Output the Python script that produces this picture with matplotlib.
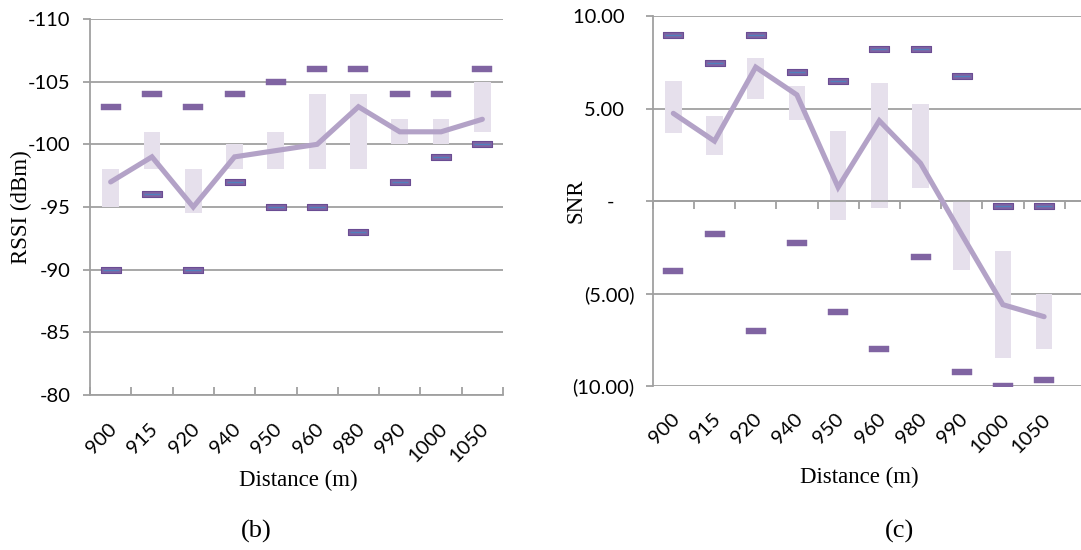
import matplotlib
matplotlib.use("Agg")
import matplotlib.pyplot as plt
from matplotlib.path import Path
from matplotlib.transforms import blended_transform_factory
import numpy as np

# ---------------- data ----------------
distances = ['900', '915', '920', '940', '950', '960', '980', '990', '1000', '1050']

rssi_max = [-90, -96, -90, -97, -95, -95, -93, -97, -99, -100]
rssi_min = [-103, -104, -103, -104, -105, -106, -106, -104, -104, -106]
rssi_box_hi = [-95, -98, -94.5, -98, -98, -98, -98, -100, -100, -101]
rssi_box_lo = [-98, -101, -98, -100, -101, -104, -104, -102, -102, -105]
rssi_mean = [-97, -99, -95, -99, -99.5, -100, -103, -101, -101, -102]
rssi_ticks = [-110, -105, -100, -95, -90, -85, -80]

snr_max = [9.0, 7.5, 9.0, 7.0, 6.5, 8.25, 8.25, 6.75, -0.25, -0.25]
snr_min = [-3.8, -1.8, -7.0, -2.25, -6.0, -8.0, -3.0, -9.25, -10.0, -9.7]
snr_box_hi = [6.5, 4.6, 7.75, 6.25, 3.8, 6.4, 5.25, 0.0, -2.7, -5.0]
snr_box_lo = [3.7, 2.5, 5.5, 4.4, -1.0, -0.35, 0.7, -3.7, -8.5, -8.0]
snr_mean = [4.75, 3.25, 7.25, 5.75, 0.75, 4.35, 2.05, -1.8, -5.6, -6.25]
snr_ticks = [-10, -5, 0, 5, 10]
snr_tick_labels = ['(10.00)', '(5.00)', '-    ', '5.00  ', '10.00  ']

# ---------------- style ----------------
DPI = 100
W, H = 1081, 550
BAR_C = '#E6E0EC'
LINE_C = '#B3A2C7'
MARK_C = '#8064A2'
MARK_EDGE = '#6A4C93'
BLUE_C = '#4F81BD'
GRID_C = '#A0A0A0'
SANS = ['Lato', 'DejaVu Sans']
SERIF = ['Liberation Serif', 'DejaVu Serif']

rect = Path([(-1, -0.32), (1, -0.32), (1, 0.32), (-1, 0.32), (-1, -0.32)],
            [Path.MOVETO, Path.LINETO, Path.LINETO, Path.LINETO, Path.CLOSEPOLY])

fig = plt.figure(figsize=(W / DPI, H / DPI), dpi=DPI)

def px_ax(x0, y0, x1, y1):
    return fig.add_axes([x0 / W, 1 - y1 / H, (x1 - x0) / W, (y1 - y0) / H])

ax1 = px_ax(90, 19, 503, 395)
ax2 = px_ax(652.7, 16.3, 1081, 386)

x = np.arange(len(distances))


def draw(ax, lo, hi, mean, mx, mn):
    ax.bar(x, np.array(hi) - np.array(lo), bottom=lo, width=0.405,
           color=BAR_C, zorder=2, linewidth=0)
    ax.plot(x, mean, color=LINE_C, lw=3.7, solid_capstyle='round',
            solid_joinstyle='miter', zorder=3)
    ax.plot(x, mn, linestyle='none', marker=rect, markersize=14,
            markerfacecolor=MARK_C, markeredgecolor=MARK_C, markeredgewidth=0.3,
            zorder=4)
    ax.plot(x, mx, linestyle='none', marker=rect, markersize=14,
            markerfacecolor=MARK_C, markeredgecolor=MARK_EDGE, markeredgewidth=0.8,
            zorder=4)
    ax.plot(x, mx, linestyle='none', marker='_', markersize=11,
            markeredgecolor=BLUE_C, markeredgewidth=1.0, zorder=5)


def common(ax):
    for s in ['top', 'right']:
        ax.spines[s].set_visible(False)
    ax.spines['left'].set_color(GRID_C)
    ax.spines['left'].set_linewidth(1.3)
    ax.spines['bottom'].set_color(GRID_C)
    ax.spines['bottom'].set_linewidth(1.3)
    ax.yaxis.grid(True, color=GRID_C, linewidth=1.3, zorder=1)
    ax.set_axisbelow(True)
    ax.tick_params(axis='y', direction='out', length=5, width=1.3, color=GRID_C,
                   labelsize=14.5, labelcolor='black')
    for lab in ax.get_yticklabels():
        lab.set_family(SANS)


# ---------------- left panel (b) ----------------
draw(ax1, rssi_box_lo, rssi_box_hi, rssi_mean, rssi_max, rssi_min)
ax1.set_xlim(-0.5, len(distances) - 0.5)
ax1.set_ylim(-80, -110)
ax1.set_yticks(rssi_ticks)
ax1.set_yticklabels([str(t) for t in rssi_ticks], family=SANS)
common(ax1)
ax1.tick_params(axis='y', pad=9)
ax1.set_xticks(np.arange(-0.5, len(distances)))
ax1.set_xticklabels([])
ax1.tick_params(axis='x', direction='in', length=6, width=1.3, color=GRID_C)
tr1 = blended_transform_factory(ax1.transData, ax1.transAxes)
for i, d in enumerate(distances):
    ax1.text(i + 0.08, -0.083, d, transform=tr1, rotation=45,
             rotation_mode='anchor', ha='right', va='center',
             fontsize=14.5, family=SANS)

# ---------------- right panel (c) ----------------
draw(ax2, snr_box_lo, snr_box_hi, snr_mean, snr_max, snr_min)
ax2.set_xlim(-0.5, -0.5 + (1081 - 652.7) / 41.2)
ax2.set_ylim(-10, 10)
ax2.set_yticks(snr_ticks)
ax2.set_yticklabels(snr_tick_labels, family=SANS)
common(ax2)
ax2.tick_params(axis='y', pad=8)
ax2.spines['bottom'].set_position(('data', 0))
ax2.set_xticks(np.arange(-0.5, len(distances)))
ax2.set_xticklabels([])
ax2.tick_params(axis='x', direction='out', length=6, width=1.3, color=GRID_C)
tr2 = blended_transform_factory(ax2.transData, ax2.transAxes)
for i, d in enumerate(distances):
    ax2.text(i + 0.08, -0.083, d, transform=tr2, rotation=45,
             rotation_mode='anchor', ha='right', va='center',
             fontsize=14.5, family=SANS)

# ---------------- labels ----------------
fig.text(21 / W, 1 - 207 / H, 'RSSI (dBm)', rotation=90, ha='center', va='center',
         fontsize=16.5, family=SERIF)
fig.text(576 / W, 1 - 201 / H, 'SNR', rotation=90, ha='center', va='center',
         fontsize=16.5, family=SERIF)
fig.text(298.7 / W, 1 - 480 / H, 'Distance (m)', ha='center', va='center',
         fontsize=16.5, family=SERIF)
fig.text(859 / W, 1 - 477 / H, 'Distance (m)', ha='center', va='center',
         fontsize=16.5, family=SERIF)
fig.text(256 / W, 1 - 531 / H, '(b)', ha='center', va='center',
         fontsize=19, family=SERIF)
fig.text(900 / W, 1 - 531 / H, '(c)', ha='center', va='center',
         fontsize=19, family=SERIF)

fig.savefig('out.png', dpi=DPI)
